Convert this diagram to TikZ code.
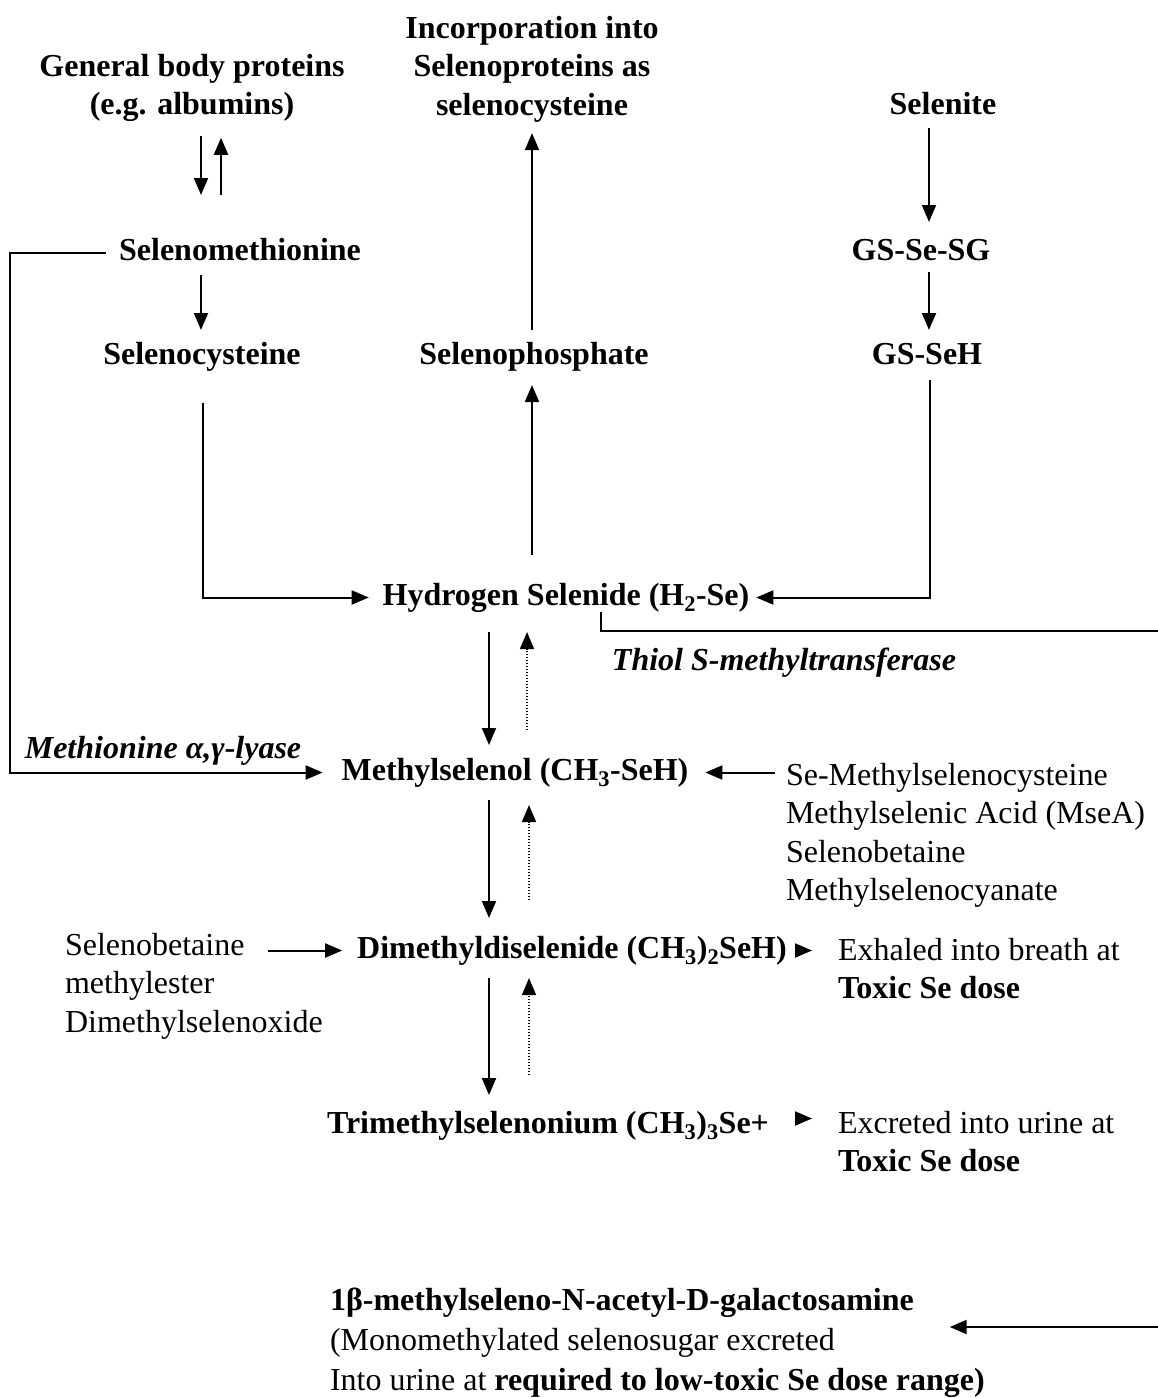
\documentclass[tikz,border=0pt]{standalone}
\usepackage{fontspec}
\setmainfont{Liberation Serif}
\usetikzlibrary{arrows.meta}
\begin{document}
\begin{tikzpicture}[x=1pt,y=-1pt,
  every node/.style={inner sep=0pt, outer sep=0pt, font=\fontsize{32}{38.5}\selectfont},
  bnode/.style={anchor=base, font=\fontsize{32}{38.5}\selectfont\bfseries, text height=22pt, text depth=7pt},
  mnode/.style={align=center, anchor=north, font=\fontsize{32}{38.5}\selectfont\bfseries},
  lnode/.style={align=left, anchor=north west},
  arr/.style={line width=2pt, -{Triangle[length=17pt,width=14pt]}},
  dotarr/.style={line width=1.5pt, dash pattern=on 1.5pt off 1.5pt, -{Triangle[length=17pt,width=14pt]}},
  plain/.style={line width=2pt}]
\useasboundingbox (0,0) rectangle (1158,1398);

\node[mnode] (gbp) at (192,54) {General body proteins\\(e.g. albumins)};
\node[mnode] (inc) at (532,16) {Incorporation into\\Selenoproteins as\\selenocysteine};
\node[bnode] (sel) at (943,114) {Selenite};
\node[bnode] (semet) at (240,260) {Selenomethionine};
\node[bnode] (gsg) at (921,260) {GS-Se-SG};
\node[bnode] (secys) at (202,364) {Selenocysteine};
\node[bnode] (sephos) at (534,364) {Selenophosphate};
\node[bnode] (gsh) at (927,364) {GS-SeH};
\node[bnode] (h2se) at (566,605) {Hydrogen Selenide (H\textsubscript{2}-Se)};
\node[bnode, font=\fontsize{32}{38.5}\selectfont\bfseries\itshape] (thiol) at (784,670) {Thiol S-methyltransferase};
\node[bnode, font=\fontsize{32}{38.5}\selectfont\bfseries\itshape] (lyase) at (163,758) {Methionine α,γ-lyase};
\node[bnode] (mese) at (515,780) {Methylselenol (CH\textsubscript{3}-SeH)};
\node[lnode] (mlist) at (786,763) {Se-Methylselenocysteine\\Methylselenic Acid (MseA)\\Selenobetaine\\Methylselenocyanate};
\node[bnode] (dmdse) at (572,958) {Dimethyldiselenide (CH\textsubscript{3})\textsubscript{2}SeH)};
\node[lnode] (sb) at (65,933) {Selenobetaine\\methylester\\Dimethylselenoxide};
\node[lnode] (exh) at (838,938) {Exhaled into breath at\\\textbf{Toxic Se dose}};
\node[bnode] (tmse) at (548,1133) {Trimethylselenonium (CH\textsubscript{3})\textsubscript{3}Se+};
\node[lnode] (exc) at (838,1111) {Excreted into urine at\\\textbf{Toxic Se dose}};
\node[lnode, font=\fontsize{32}{40}\selectfont] (bot) at (330,1288) {\textbf{1β-methylseleno-N-acetyl-D-galactosamine}\\(Monomethylated selenosugar excreted\\Into urine at \textbf{required to low-toxic Se dose range)}};

\draw[arr, shorten <=14pt, shorten >=43pt] ([xshift=9pt]gbp.south) -- ([xshift=-39pt]semet.north);
\draw[arr, shorten <=43pt, shorten >=16pt] ([xshift=-19pt]semet.north) -- ([xshift=29pt]gbp.south);
\draw[arr, shorten <=8pt, shorten >=12pt] ([xshift=-39pt]semet.south) -- ([xshift=-1pt]secys.north);
\draw[arr, shorten <=7pt, shorten >=16pt] ([xshift=-14pt]sel.south) -- ([xshift=8pt]gsg.north);
\draw[arr, shorten <=5pt, shorten >=12pt] ([xshift=8pt]gsg.south) -- ([xshift=2pt]gsh.north);
\draw[arr, shorten <=12pt, shorten >=11pt] ([xshift=-2pt]sephos.north) -- (inc.south);
\draw[arr, shorten <=28pt, shorten >=14pt] ([xshift=-34pt]h2se.north) -- ([xshift=-2pt]sephos.south);
\draw[arr, shorten <=32pt, shorten >=14pt] ([xshift=1pt]secys.south) |- (h2se.west);
\draw[arr, shorten <=9pt, shorten >=7pt] ([xshift=3pt]gsh.south) |- (h2se.east);
\coordinate (thiolR) at (1160,631);
\draw[plain] ([xshift=35pt]h2se.south) |- (thiolR);
\draw[arr, shorten <=20pt, shorten >=13pt] ([xshift=-77pt]h2se.south) -- ([xshift=-26pt]mese.north);
\draw[dotarr, shorten <=28pt, shorten >=20pt] ([xshift=12pt]mese.north) -- ([xshift=-39pt]h2se.south);
\coordinate (lcol) at (10,0);
\draw[arr, shorten <=13pt, shorten >=19pt] (semet.west) -- (semet.west -| lcol) |- (mese.west);
\draw[arr, shorten <=11pt, shorten >=17pt] (mese.east -| mlist.west) -- (mese.east);
\draw[arr, shorten <=13pt, shorten >=18pt] ([xshift=-26pt]mese.south) -- ([xshift=-83pt]dmdse.north);
\draw[dotarr, shorten <=36pt, shorten >=18pt] ([xshift=-43pt]dmdse.north) -- ([xshift=14pt]mese.south);
\draw[arr, shorten <=-55pt, shorten >=15pt] (dmdse.west -| sb.east) -- (dmdse.west);
\draw[arr, shorten <=13pt, shorten >=26pt] (dmdse.east) -- (dmdse.east -| exh.west);
\draw[arr, shorten <=13pt, shorten >=16pt] ([xshift=-83pt]dmdse.south) -- ([xshift=-59pt]tmse.north);
\draw[dotarr, shorten <=36pt, shorten >=13pt] ([xshift=-19pt]tmse.north) -- ([xshift=-43pt]dmdse.south);
\coordinate (tmR) at ([yshift=7pt]tmse.east);
\draw[arr, shorten <=31pt, shorten >=26pt] (tmR) -- (tmR -| exc.west);
\coordinate (botR) at (1160,1327);
\draw[arr, shorten >=-35pt] (botR) -- (botR -| bot.east);
\end{tikzpicture}
\end{document}
